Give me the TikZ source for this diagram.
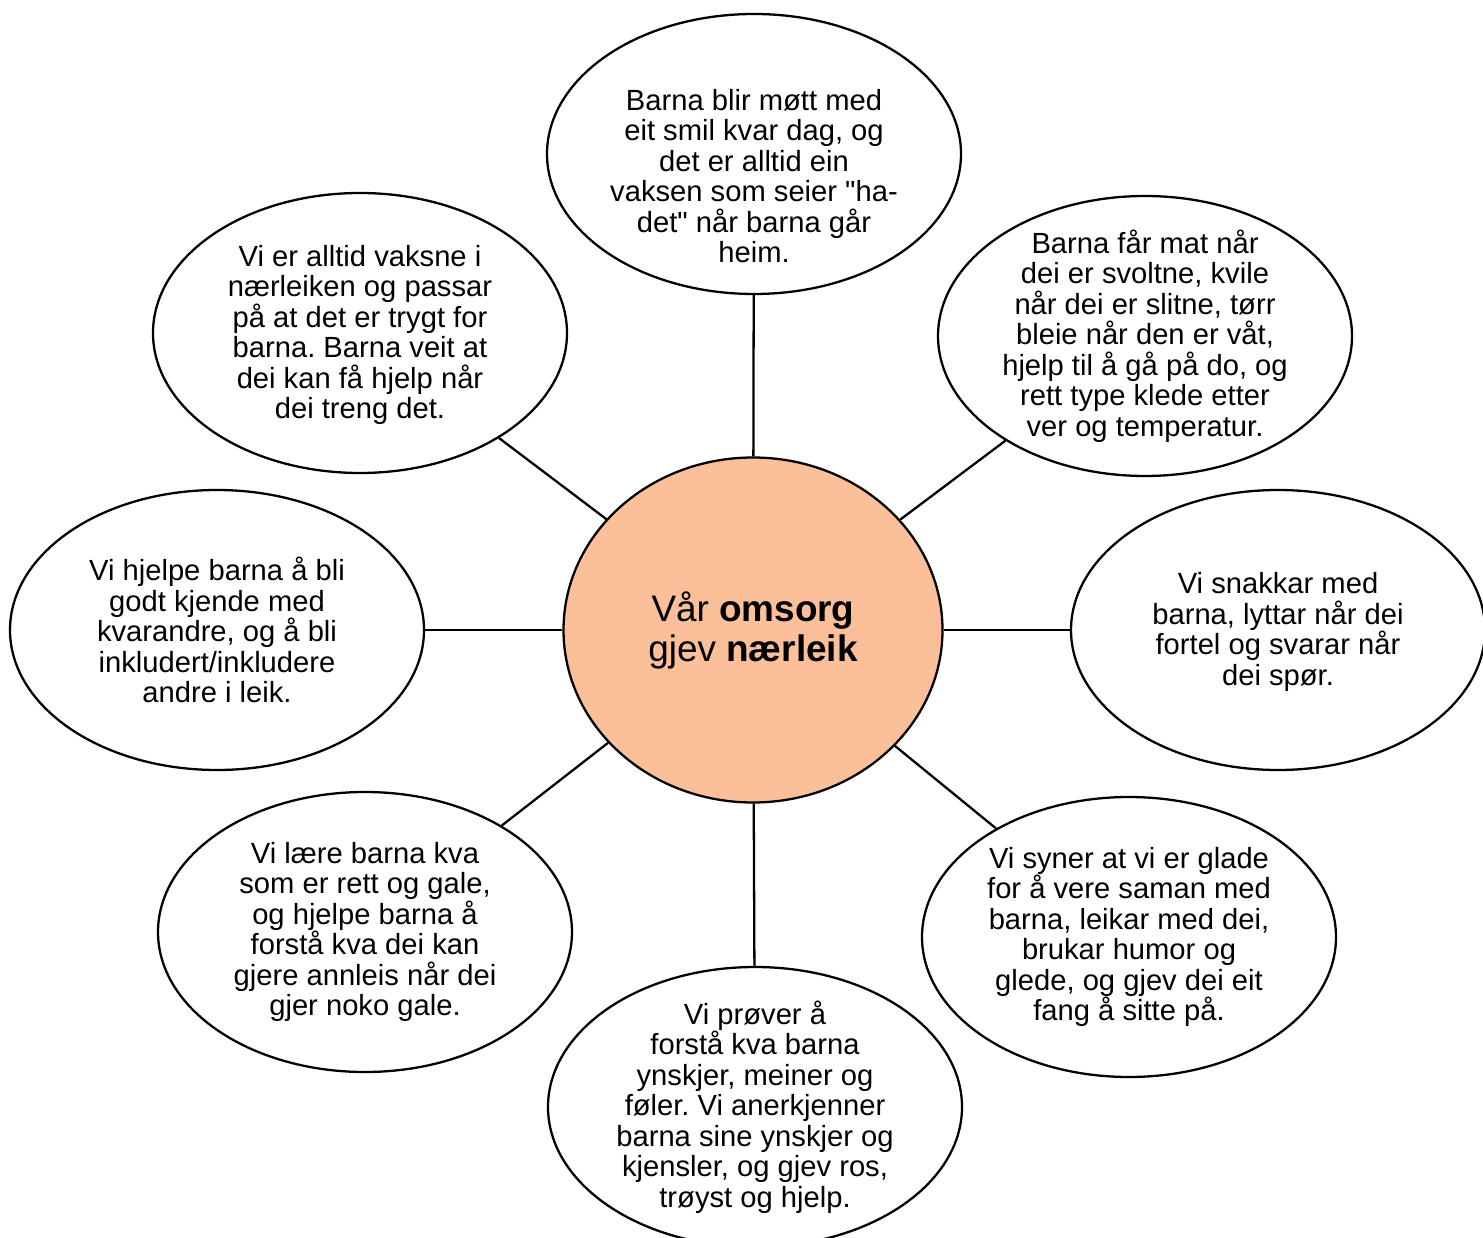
\documentclass[tikz,border=0pt]{standalone}
\usepackage{fontspec}
\setmainfont{Liberation Sans}
\usetikzlibrary{shapes}
\frenchspacing

\definecolor{peach}{RGB}{251,192,154}

\begin{document}
\begin{tikzpicture}[
    x = 0.1mm, y = -0.1mm, line width = 0.65pt,
    bubble/.style = {draw, ellipse, minimum width = 41.4mm, minimum height = 28mm, inner sep = 0pt},
    hub/.style = {draw, ellipse, fill = peach, minimum width = 37.9mm, minimum height = 34.5mm,
      inner sep = 0pt, align = center, font = \fontsize{10.5}{11.4}\selectfont},
    note/.style = {align = center, inner sep = 0pt, font = \fontsize{8.3}{8.68}\selectfont}
  ]
  \useasboundingbox (0,0) rectangle (1483,1238);

  % the middle
  \node[hub] (Hub) at (753,630) {Vår \textbf{omsorg}\\gjev \textbf{nærleik}};

  % bubbles round it
  \node[bubble] (Top)         at (754,154)  {};
  \node[bubble] (TopLeft)     at (360,333)  {};
  \node[bubble] (TopRight)    at (1145,336) {};
  \node[bubble] (Left)        at (217,630)  {};
  \node[bubble] (Right)       at (1278,630) {};
  \node[bubble] (BottomLeft)  at (365,932)  {};
  \node[bubble] (BottomRight) at (1129,937) {};
  \node[bubble] (Bottom)      at (755,1107) {};

  % spokes
  \foreach \b in {Top, TopLeft, TopRight, Left, Right, BottomLeft, BottomRight, Bottom}
    \draw (Hub) -- (\b);

  % texts
  \node[note] (TopText) at (754,176) {Barna blir møtt med\\eit smil kvar dag, og\\det er alltid ein\\vaksen som seier \textquotedbl ha-\\det\textquotedbl{} når barna går\\heim.};
  \node[note] (TopLeftText) at (360,335) {Vi er alltid vaksne i\\nærleiken og passar\\på at det er trygt for\\barna. Barna veit at\\dei kan få hjelp når\\dei treng det.};
  \node[note] (TopRightText) at (TopRight) {Barna får mat når\\dei er svoltne, kvile\\når dei er slitne, tørr\\bleie når den er våt,\\hjelp til å gå på do, og\\rett type klede etter\\ver og temperatur.};
  \node[note] (LeftText) at (Left) {Vi hjelpe barna å bli\\godt kjende med\\kvarandre, og å bli\\inkludert/inkludere\\andre i leik.};
  \node[note] (RightText) at (1278,632) {Vi snakkar med\\barna, lyttar når dei\\fortel og svarar når\\dei spør.};
  \node[note] (BottomLeftText) at (BottomLeft) {Vi lære barna kva\\som er rett og gale,\\og hjelpe barna å\\forstå kva dei kan\\gjere annleis når dei\\gjer noko gale.};
  \node[note] (BottomRightText) at (BottomRight) {Vi syner at vi er glade\\for å vere saman med\\barna, leikar med dei,\\brukar humor og\\glede, og gjev dei eit\\fang å sitte på.};
  \node[note] (BottomText) at (Bottom) {Vi prøver å\\forstå kva barna\\ynskjer, meiner og\\føler. Vi anerkjenner\\barna sine ynskjer og\\kjensler, og gjev ros,\\trøyst og hjelp.};
\end{tikzpicture}
\end{document}
